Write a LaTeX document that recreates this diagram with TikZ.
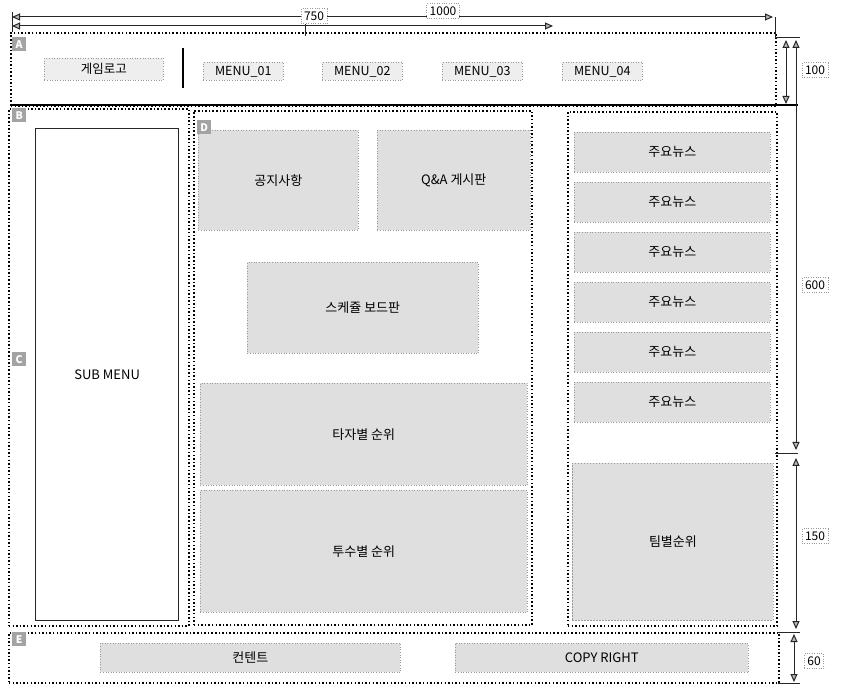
\documentclass[tikz,border=0pt]{standalone}
\usepackage{fontspec}
\setmainfont{Noto Sans CJK KR}
\usetikzlibrary{arrows.meta}
\begin{document}
\begin{tikzpicture}[x=1pt,y=-1pt,
  region/.style={draw=black, line width=1.8pt, dash pattern=on 1.5pt off 2.1pt, anchor=north west, inner sep=0pt},
  item/.style={draw=gray!80, dotted, line width=0.6pt, fill=gray!25, anchor=north west, inner sep=0pt, font=\fontsize{13}{15}\selectfont},
  menu/.style={draw=gray!80, dotted, line width=0.6pt, fill=gray!13, anchor=north west, inner sep=0pt, font=\fontsize{12.5}{14}\selectfont},
  tag/.style={fill=gray!72, text=white, anchor=north west, inner sep=0pt, minimum size=14pt, font=\bfseries\fontsize{10.5}{11}\selectfont},
  dimlabel/.style={draw=gray!80, dotted, fill=white, inner sep=3pt, font=\fontsize{12}{13}\selectfont},
  tip/.tip={Triangle[length=8pt,width=7pt,fill=gray!55]},
  dim/.style={draw=black!85, line width=1pt, tip-tip},
  ext/.style={draw=black!85, line width=1pt}
]
\useasboundingbox (0,0) rectangle (841,692);
\fill[white] (0,0) rectangle (841,692);

% regions
\node[region, minimum width=765, minimum height=73] (A) at (10,32) {};
\node[region, minimum width=180, minimum height=517] (B) at (8,108) {};
\node[region, minimum width=338, minimum height=514] (D) at (193,110) {};
\node[region, minimum width=209, minimum height=514] (R) at (567,111) {};
\node[region, minimum width=770, minimum height=50] (E) at (8,632) {};

% header content
\node[menu, minimum width=119, minimum height=22] (logo) at (44,58) {게임로고};
\coordinate (sepT) at (183,48);
\coordinate (sepB) at (183,88);
\draw[line width=1.5pt] (sepT) -- (sepB);
\node[menu, minimum width=80, minimum height=18] (m1) at (203,62) {MENU\_01};
\node[menu, minimum width=80, minimum height=18] (m2) at (322,62) {MENU\_02};
\node[menu, minimum width=80, minimum height=18] (m3) at (442,62) {MENU\_03};
\node[menu, minimum width=80, minimum height=18] (m4) at (562,62) {MENU\_04};

% left sub menu
\node[draw=black!85, line width=1.2pt, fill=white, anchor=north west, minimum width=143, minimum height=492, font=\fontsize{13}{15}\selectfont] (sub) at (35,128) {SUB MENU};

% D content
\node[item, minimum width=160, minimum height=100] (notice) at (198,130) {공지사항};
\node[item, minimum width=153, minimum height=100] (qa) at (377,130) {Q\&A 게시판};
\node[item, minimum width=231, minimum height=91] (sched) at (247,262) {스케쥴 보드판};
\node[item, minimum width=327, minimum height=102] (hit) at (200,383) {타자별 순위};
\node[item, minimum width=327, minimum height=122] (pitch) at (200,490) {투수별 순위};

% right column
\foreach \i in {0,...,5} {
  \node[item, minimum width=196, minimum height=40] (news\i) at (574,132+50*\i) {주요뉴스};
}
\node[item, dash pattern=on 1.5pt off 1.5pt, line width=0.9pt, minimum width=201, minimum height=157] (team) at (572,463) {팀별순위};

% footer
\node[item, minimum width=300, minimum height=29] (content) at (100,643) {컨텐트};
\node[item, minimum width=293, minimum height=29] (copy) at (455,643) {COPY RIGHT};

% tags
\node[tag] (tA) at (12,37) {A};
\node[tag] (tB) at (12,108) {B};
\node[tag] (tC) at (12,352) {C};
\node[tag] (tD) at (197,120) {D};
\node[tag] (tE) at (12,632) {E};

% dimension coordinates
\coordinate (h1s) at (12,17);
\coordinate (h1e) at (773,17);
\coordinate (h2s) at (12,26);
\coordinate (h2e) at (553,26);
\coordinate (lx1) at (12,12);
\coordinate (lx2) at (12,32);
\coordinate (tk1) at (305,24);
\coordinate (tk2) at (305,36);
\coordinate (e1a) at (775,17);
\coordinate (e1b) at (775,38);
\coordinate (e1c) at (800,38);
\coordinate (e2a) at (10,105);
\coordinate (e2b) at (798,105);
\coordinate (v100s) at (786,40);
\coordinate (v100e) at (786,104);
\coordinate (v600s) at (796,40);
\coordinate (v600e) at (796,450);
\coordinate (e3a) at (775,454);
\coordinate (e3b) at (798,454);
\coordinate (v150s) at (796,458);
\coordinate (v150e) at (796,629);
\coordinate (e4a) at (778,632);
\coordinate (e4b) at (800,632);
\coordinate (v60s) at (794,634);
\coordinate (v60e) at (794,682);
\coordinate (e5a) at (778,683);
\coordinate (e5b) at (800,683);

% extension lines
\draw[ext] (lx1) -- (lx2);
\draw[ext] (tk1) -- (tk2);
\draw[ext] (e1a) -- (e1b) -- (e1c);
\draw[line width=1.3pt] (e2a) -- (e2b);
\draw[ext] (e3a) -- (e3b);
\draw[ext] (e4a) -- (e4b);
\draw[ext] (e5a) -- (e5b);

% dimension lines
\draw[dim] (h1s) -- (h1e);
\draw[dim] (h2s) -- (h2e);
\draw[dim] (v100s) -- (v100e);
\draw[dim] (v600s) -- (v600e);
\draw[dim] (v150s) -- (v150e);
\draw[dim] (v60s) -- (v60e);

% dimension labels
\node[dimlabel] (l750) at (314,16) {750};
\node[dimlabel] (l1000) at (443,11) {1000};
\node[dimlabel] (l100) at (815,70) {100};
\node[dimlabel] (l600) at (815,285) {600};
\node[dimlabel] (l150) at (815,536) {150};
\node[dimlabel] (l60) at (814,661) {60};
\end{tikzpicture}
\end{document}
